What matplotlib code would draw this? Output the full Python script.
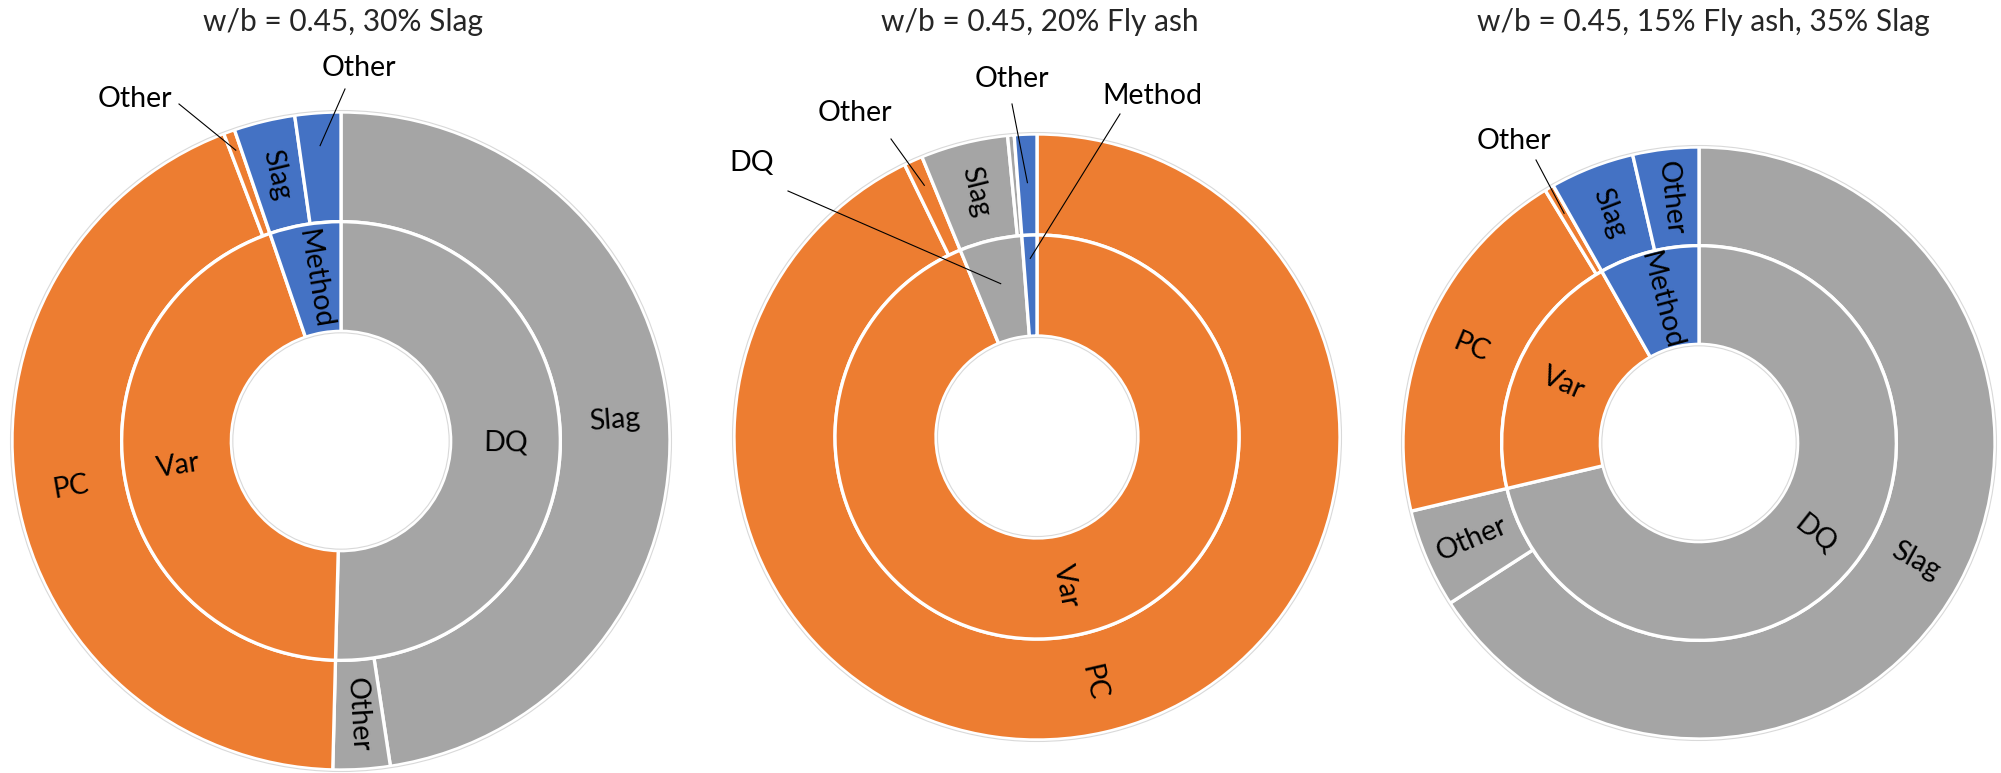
"""Nested sunburst rings: sources of uncertainty for three binder mixes"""

import numpy as np
import matplotlib.pyplot as plt
import matplotlib.patches as mpatches

plt.rcParams['font.family'] = ['Lato', 'DejaVu Sans']

# --- data (percent of total, clockwise from 12 o'clock) ---
titles = ["w/b = 0.45, 30% Slag",
          "w/b = 0.45, 20% Fly ash",
          "w/b = 0.45, 15% Fly ash, 35% Slag"]

inner_labels = [["DQ", "Var", "Method"],
                ["Var", "DQ", "Method"],
                ["DQ", "Var", "Method"]]

# children of every inner category, same order as inner_labels
outer_labels = [[["Slag", "Other"], ["PC", "Other"], ["Slag", "Other"]],
                [["PC", "Other"], ["Slag", "Other"], ["Other"]],
                [["Slag", "Other"], ["PC", "Other"], ["Slag", "Other"]]]
outer_values = [[[47.6, 2.8], [43.8, 0.55], [3.0, 2.25]],
                [[92.8, 1.0], [4.65, 0.35], [1.2]],
                [[65.9, 5.4], [20.0, 0.5], [4.6, 3.6]]]

colors = {"DQ": "#A5A5A5", "Var": "#ED7D31", "Method": "#4472C4"}

# --- layout (figure pixels, y measured from the top) ---
W, H = 2001, 773
centers = [(341, 441), (1037, 437), (1699, 443)]
radii = [329, 303, 296]
title_x = [343, 1040, 1703]
title_y = 22
FS = 20.5
TITLE_FS = 21.5

# labels placed outside with a leader line: (ring, flat index, text xy, line start xy, end radius frac)
callouts = [
    [("outer", 3, (135, 99), (179, 104), 0.94),
     ("outer", 5, (359, 68), (345, 89), 0.90)],
    [("outer", 4, (1012, 79), (1012, 104), 0.84),
     ("inner", 2, (1152, 96), (1120, 114), 0.59),
     ("outer", 1, (855, 113), (891, 139), 0.91),
     ("inner", 1, (752, 163), (788, 191), 0.52)],
    [("outer", 3, (1514, 141), (1536, 160), 0.90)],
]
unlabeled = [[], [("outer", 3)], []]


def up(y):
    return H - y


def mid_angles(values):
    """Mid angle (math degrees) of every slice of a clockwise pie starting at 12 o'clock."""
    v = np.asarray(values, dtype=float)
    cum = np.cumsum(v) - v / 2
    return 90 - 360 * cum / v.sum()


fig = plt.figure(figsize=(W / 100, H / 100), dpi=100)
ax = fig.add_axes([0, 0, 1, 1])

for k in range(3):
    cx, cy = centers[k][0], up(centers[k][1])
    R = radii[k]
    ring = R / 3

    in_vals = [sum(ch) for ch in outer_values[k]]
    out_vals = [v for ch in outer_values[k] for v in ch]
    out_labs = [l for ch in outer_labels[k] for l in ch]
    out_cols = [colors[p] for p, ch in zip(inner_labels[k], outer_values[k]) for _ in ch]
    in_cols = [colors[p] for p in inner_labels[k]]

    wp = dict(width=ring, edgecolor='white', linewidth=2.4)
    ax.pie(out_vals, radius=R, center=(cx, cy), startangle=90, counterclock=False,
           colors=out_cols, wedgeprops=wp)
    ax.pie(in_vals, radius=2 * ring, center=(cx, cy), startangle=90, counterclock=False,
           colors=in_cols, wedgeprops=wp)

    # faint rims around the outer edge and the hole
    for r in (R + 1.5, ring - 1.5):
        ax.add_patch(mpatches.Circle((cx, cy), r, fill=False, edgecolor='#D9D9D9', linewidth=0.8))

    rings = {
        "outer": (out_vals, out_labs, 2.5 * ring),
        "inner": (in_vals, inner_labels[k], 1.5 * ring),
    }
    skip = {(c[0], c[1]) for c in callouts[k]} | set(unlabeled[k])

    for name, (vals, labs, rmid) in rings.items():
        angs = mid_angles(vals)
        for i, (lab, a) in enumerate(zip(labs, angs)):
            if (name, i) in skip:
                continue
            x = cx + rmid * np.cos(np.radians(a))
            y = cy + rmid * np.sin(np.radians(a))
            rot = ((a + 90) % 180) - 90
            ax.text(x, y, lab, rotation=rot, rotation_mode='anchor',
                    ha='center', va='center', fontsize=FS, color='black')

    for name, i, txy, sxy, frac in callouts[k]:
        vals, labs, _ = rings[name]
        a = np.radians(mid_angles(vals)[i])
        ex = cx + frac * R * np.cos(a)
        ey = cy + frac * R * np.sin(a)
        ax.plot([sxy[0], ex], [up(sxy[1]), ey], color='black', linewidth=0.8)
        ax.text(txy[0], up(txy[1]), labs[i], ha='center', va='center',
                fontsize=FS, color='black')

    ax.text(title_x[k], up(title_y), titles[k], ha='center', va='center',
            fontsize=TITLE_FS, color='#262626')

ax.set_xlim(0, W)
ax.set_ylim(0, H)
ax.set_aspect('auto')
ax.axis('off')

fig.savefig('out.png', dpi=100, facecolor='white')
